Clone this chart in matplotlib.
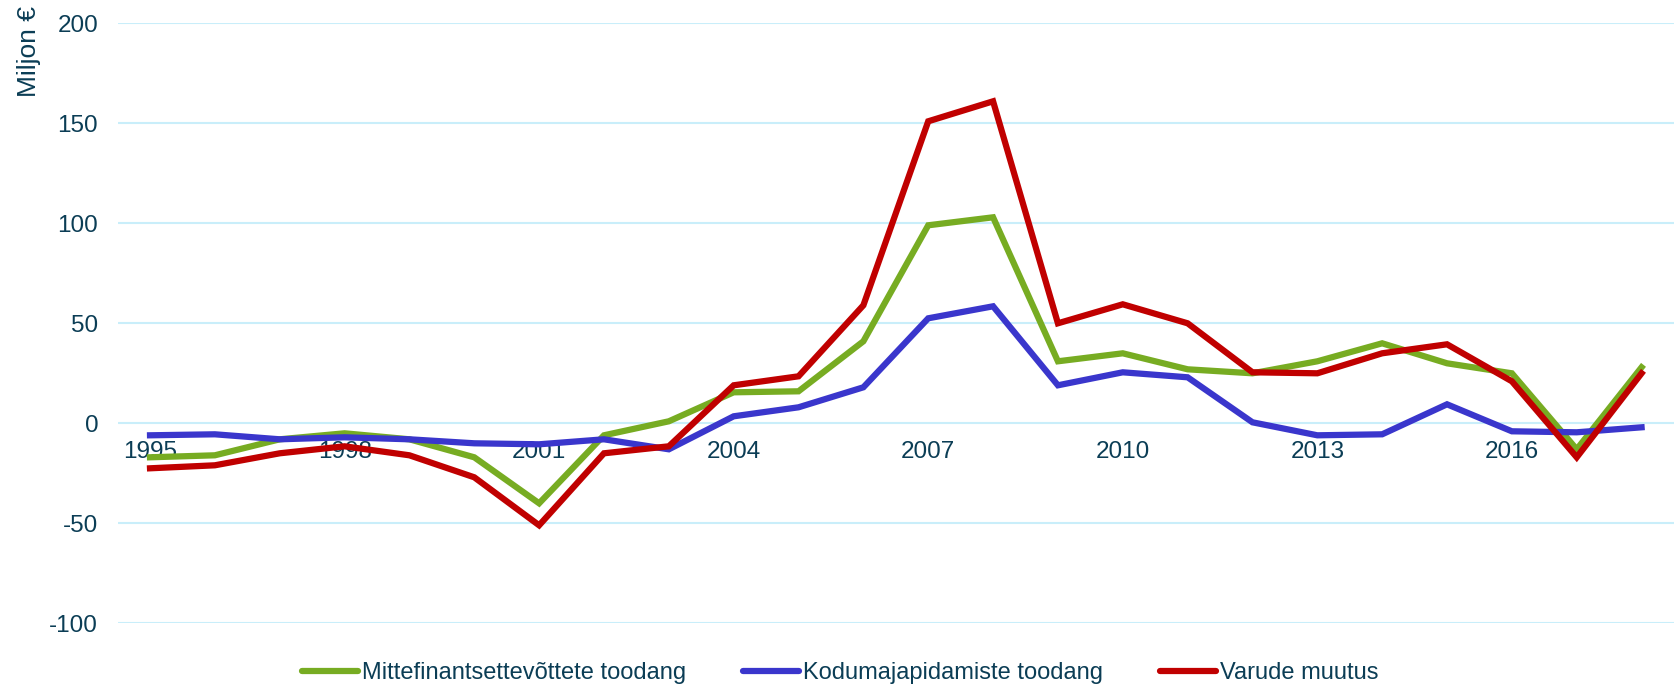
import numpy as np
import matplotlib
matplotlib.use("Agg")
import matplotlib.pyplot as plt

years = list(range(1995, 2019))

mittefinants = [-17, -16, -8, -5, -8, -17, -40, -6, 1, 15.5, 16, 41, 99, 103,
                31, 35, 27, 25, 31, 40, 30, 25, -13, 28]
kodumaj = [-6, -5.5, -8, -7, -8, -10, -10.5, -8, -13, 3.5, 8, 18, 52.5, 58.5,
           19, 25.5, 23, 0.5, -6, -5.5, 9.5, -4, -4.5, -2]
varude = [-22.5, -21, -15, -11.5, -16, -27, -51, -15, -11.5, 19, 23.5, 59, 151, 161,
          50, 59.5, 50, 25.5, 25, 35, 39.5, 21, -17, 25]

labels = ["Mittefinantsettevõttete toodang", "Kodumajapidamiste toodang", "Varude muutus"]
colors = ["#77AC22", "#3A36CC", "#C00000"]

text_col = "#0B3D55"
plt.rcParams['font.family'] = ['Liberation Sans', 'DejaVu Sans']
plt.rcParams['axes.unicode_minus'] = False

fig = plt.figure(figsize=(16.8, 6.86), dpi=100)
ax = fig.add_axes([117.6 / 1680, 1 - 623.3 / 686, (1674 - 117.6) / 1680, 600 / 686])

for series, lab, col in zip([mittefinants, kodumaj, varude], labels, colors):
    ax.plot(years, series, color=col, lw=4.5, label=lab, solid_joinstyle='miter', zorder=2)

ax.set_xlim(1994.5, 2018.5)
ax.set_ylim(-100, 200)
ax.set_yticks(np.arange(-100, 201, 50))
ax.grid(axis='y', color='#C9EEFA', lw=1.5)
ax.set_axisbelow(True)

ax.set_xticks(years[::3])
ax.set_xticklabels([str(y) for y in years[::3]])
ax.spines['bottom'].set_position(('data', 0))
for s in ax.spines.values():
    s.set_visible(False)
ax.tick_params(axis='x', length=0, pad=13, labelsize=17.5, labelcolor=text_col)
ax.tick_params(axis='y', length=0, pad=14, labelsize=17.5, labelcolor=text_col)
for t in ax.get_xticklabels():
    t.set_zorder(5)

fig.text(29 / 1680, 1 - 6 / 686, "Miljon €", rotation=90, ha='center', va='top',
         fontsize=19, color=text_col)

leg = fig.legend(loc='center', bbox_to_anchor=(0.5, 1 - 673 / 686), ncol=3, frameon=False,
                 fontsize=17, handlelength=2.4, handletextpad=0.15, columnspacing=2.4,
                 labelcolor=text_col)
for h in leg.get_lines():
    h.set_solid_capstyle('round')

fig.savefig("out.png", dpi=100)
